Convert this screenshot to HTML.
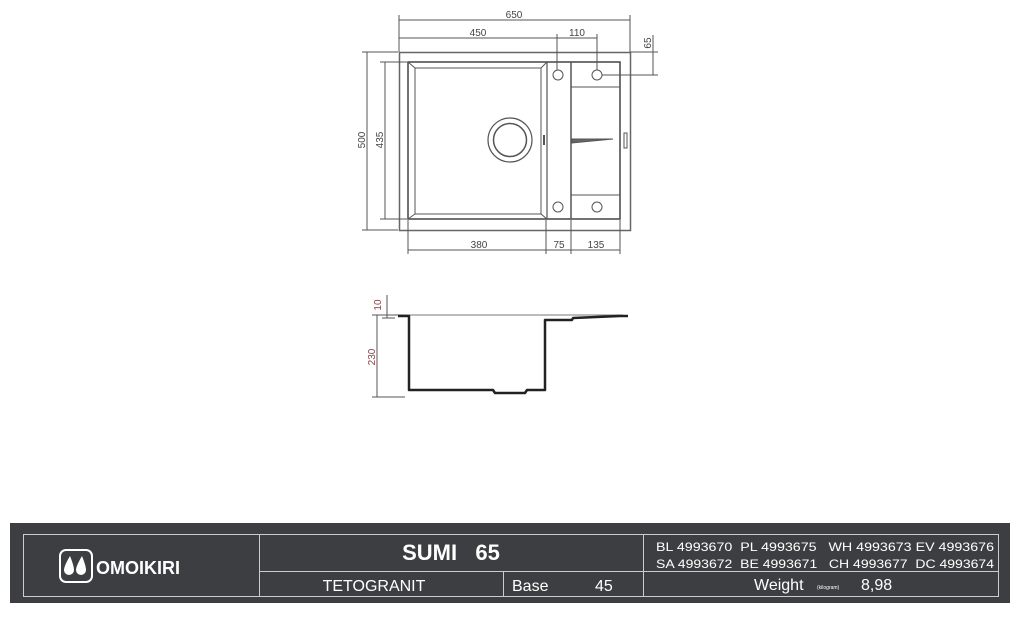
<!DOCTYPE html><html><head><style>body{margin:0;background:#fff;width:1020px;height:614px;overflow:hidden;font-family:"Liberation Sans",sans-serif}</style></head><body>
<svg width="1020" height="614" xmlns="http://www.w3.org/2000/svg" font-family="Liberation Sans, sans-serif">
<g stroke="#555" fill="none" stroke-width="1">
<rect x="399.5" y="52.5" width="231" height="178" stroke="#666" stroke-width="1.5"/>
<rect x="408" y="62" width="212" height="157" stroke="#444" stroke-width="1.5"/>
<rect x="415" y="68" width="126" height="146" stroke-width="1"/>
<line x1="547" y1="62" x2="547" y2="219" stroke-width="1.2"/>
<line x1="571" y1="62" x2="571" y2="219" stroke-width="1.5"/>
<line x1="571" y1="87" x2="620" y2="87"/><line x1="571" y1="195" x2="620" y2="195"/>
<line x1="408" y1="62" x2="415" y2="68"/><line x1="547" y1="62" x2="541" y2="68"/><line x1="408" y1="219" x2="415" y2="214"/><line x1="547" y1="219" x2="541" y2="214"/>
<circle cx="558" cy="75" r="5"/><circle cx="597" cy="75" r="5"/><circle cx="558" cy="207" r="5"/><circle cx="597" cy="207" r="5"/>
<circle cx="510" cy="140" r="22" stroke-width="1.2"/><circle cx="510" cy="140" r="16.5" stroke-width="1.5"/>
<path d="M572 139 L613 139 L572 143Z" fill="#666"/>
<rect x="624" y="133" width="3" height="15"/>
<line x1="544" y1="135" x2="544" y2="145" stroke-width="2"/>
<line x1="399" y1="20" x2="630" y2="20"/><line x1="399" y1="15" x2="399" y2="52"/><line x1="630" y1="15" x2="630" y2="52"/>
<line x1="399" y1="38" x2="557" y2="38"/><line x1="557" y1="34" x2="557" y2="70"/>
<line x1="557" y1="38" x2="597" y2="38"/><line x1="597" y1="34" x2="597" y2="70"/>
<line x1="653" y1="35" x2="653" y2="75"/><line x1="630" y1="52" x2="658" y2="52"/><line x1="602" y1="75" x2="658" y2="75"/>
<line x1="367" y1="52" x2="367" y2="230"/><line x1="362" y1="52" x2="398" y2="52"/><line x1="362" y1="230" x2="398" y2="230"/>
<line x1="385" y1="62" x2="385" y2="219"/><line x1="380" y1="62" x2="407" y2="62"/><line x1="380" y1="219" x2="407" y2="219"/>
<line x1="408" y1="250" x2="620" y2="250"/><line x1="408" y1="220" x2="408" y2="254"/><line x1="546" y1="220" x2="546" y2="254"/><line x1="571" y1="220" x2="571" y2="254"/><line x1="620" y1="220" x2="620" y2="254"/>
<line x1="397" y1="315" x2="623" y2="315" stroke="#777"/>
<line x1="377" y1="315" x2="377" y2="397"/><line x1="372" y1="315" x2="405" y2="315"/><line x1="372" y1="397" x2="405" y2="397"/>
<line x1="387" y1="295" x2="387" y2="318"/><line x1="382" y1="318" x2="395" y2="318"/>
</g>
<path d="M398 316 L409 316 L409 390 L493 390 L495 393 L525 393 L527 390 L545 390 L545 320 L572 320 L573 318 L620 316 L628 316" fill="none" stroke="#222" stroke-width="2.5" stroke-linejoin="round"/>
<g font-size="10" fill="#444" text-anchor="middle">
<text x="514" y="18">650</text><text x="478" y="36">450</text><text x="577" y="36">110</text>
<text x="479" y="248">380</text><text x="559" y="248">75</text><text x="596" y="248">135</text>
<text transform="translate(651,43) rotate(-90)">65</text>
<text transform="translate(365,140) rotate(-90)">500</text>
<text transform="translate(383,140) rotate(-90)">435</text>
<text transform="translate(381,305) rotate(-90)" fill="#844">10</text>
<text transform="translate(375,357) rotate(-90)" fill="#844">230</text>
</g>
<rect x="10" y="523" width="1000" height="80" fill="#3d3e41"/>
<g stroke="#ccc" stroke-width="1" fill="none">
<rect x="23.5" y="534.5" width="975" height="62"/>
<line x1="259.5" y1="534" x2="259.5" y2="597"/><line x1="643.5" y1="534" x2="643.5" y2="597"/>
<line x1="259" y1="571.5" x2="998" y2="571.5"/><line x1="503.5" y1="571" x2="503.5" y2="597"/>
<rect x="60" y="550" width="32" height="32" rx="6" stroke="#fff" stroke-width="2"/>
</g>
<g fill="#fff">
<path d="M70 556 Q64 566 64 570 a5 5 0 0 0 10 0 Q74 566 70 556Z"/>
<path d="M82 556 Q76 566 76 570 a5 5 0 0 0 10 0 Q86 566 82 556Z"/>
<text x="96" y="574" font-size="18" font-weight="bold">OMOIKIRI</text>
<text x="451" y="560" font-size="22" font-weight="bold" text-anchor="middle">SUMI&#160;&#160;&#160;65</text>
<text x="374" y="591" font-size="16" text-anchor="middle">TETOGRANIT</text>
<text x="512" y="591" font-size="16">Base</text><text x="595" y="591" font-size="16">45</text>
<text x="656" y="551" font-size="12" textLength="338" lengthAdjust="spacingAndGlyphs">BL 4993670&#160;&#160;PL 4993675&#160;&#160;&#160;WH 4993673 EV 4993676</text>
<text x="656" y="568" font-size="12" textLength="338" lengthAdjust="spacingAndGlyphs">SA 4993672&#160;&#160;BE 4993671&#160;&#160;&#160;CH 4993677&#160;&#160;DC 4993674</text>
<text x="754" y="590" font-size="16">Weight</text><text x="817" y="589" font-size="5">(kilogram)</text><text x="861" y="590" font-size="16">8,98</text>
</g>
</svg></body></html>
